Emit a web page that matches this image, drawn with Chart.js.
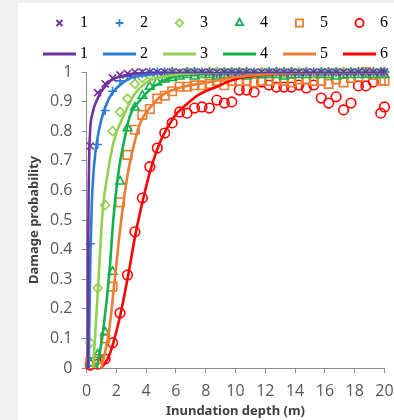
<!DOCTYPE html>
<html>
<head>
<meta charset="utf-8">
<script src="https://cdn.jsdelivr.net/npm/chart.js@4.4.1/dist/chart.umd.min.js"></script>
<style>
  html, body { margin: 0; padding: 0; overflow: hidden; background: #fff; }
  #wrap { width: 394px; height: 420px; overflow: hidden; position: relative; }
  #chart { position: absolute; left: 0; top: 0; width: 413px; height: 420px; }
</style>
</head>
<body>
<div id="wrap"><canvas id="chart" width="413" height="420"></canvas></div>
<script>
// Observed depths (m) of the damage samples
const depths = [0.25, 0.75, 1.25, 1.75, 2.25, 2.75, 3.25, 3.75, 4.25, 4.75,
  5.25, 5.75, 6.25, 6.75, 7.25, 7.75, 8.25, 8.75, 9.25, 9.75,
  10.25, 10.75, 11.25, 11.75, 12.25, 12.75, 13.25, 13.75, 14.25, 14.75,
  15.25, 15.75, 16.25, 16.75, 17.25, 17.75, 18.25, 18.75, 19.25, 19.75, 20];

// Observed damage probability per class
const obs1 = [0.75, 0.93, 0.96, 0.98, 0.99, 0.995, 1, 1, 1, 1, 1, 1, 1, 1, 1, 1, 1, 1, 1, 1,
  1, 1, 1, 1, 1, 1, 1, 1, 1, 1, 1, 1, 1, 1, 1, 1, 1, 1, 1, 1, 1];
const obs2 = [0.42, 0.755, 0.87, 0.935, 0.97, 0.985, 0.99, 0.995, 1, 1, 1, 1, 0.995, 1, 1, 1, 1, 0.995, 1, 1,
  1, 1, 1, 0.995, 1, 1, 1, 1, 0.995, 1, 1, 1, 1, 1, 0.995, 1, 1, 1, 1, 1, 1];
const obs3 = [0.085, 0.27, 0.55, 0.8, 0.865, 0.91, 0.96, 0.98, 0.99, 0.99, 0.995, 1, 0.995, 1, 1, 0.995, 1, 1, 1, 1,
  1, 1, 0.995, 1, 1, 1, 1, 1, 1, 1, 0.995, 1, 1, 1, 1, 1, 1, 1, 1, 1, 1];
const obs4 = [0.017, 0.045, 0.12, 0.325, 0.63, 0.81, 0.88, 0.92, 0.95, 0.965, 0.975, 0.98, 0.985, 0.99, 0.985, 0.99, 0.99, 0.985, 0.99, 0.99,
  0.99, 0.985, 0.99, 0.99, 0.99, 0.99, 0.985, 0.99, 0.99, 0.99, 0.99, 0.99, 0.99, 0.985, 0.99, 0.99, 0.99, 0.99, 0.99, 0.99, 0.99];
const obs5 = [0.02, 0.03, 0.1, 0.275, 0.56, 0.72, 0.805, 0.855, 0.875, 0.91, 0.92, 0.935, 0.95, 0.95, 0.955, 0.955, 0.96, 0.97, 0.955, 0.97,
  0.97, 0.97, 0.965, 0.97, 0.97, 0.975, 0.97, 0.965, 0.975, 0.975, 0.97, 0.97, 0.96, 0.975, 0.965, 0.98, 0.985, 1, 0.99, 0.97, 0.97];
const obs6 = [0.01, 0.013, 0.03, 0.085, 0.186, 0.314, 0.46, 0.574, 0.68, 0.743, 0.794, 0.828, 0.865, 0.861, 0.878, 0.882, 0.878, 0.905, 0.895, 0.899,
  0.939, 0.939, 0.932, 0.966, 0.956, 0.949, 0.949, 0.949, 0.956, 0.946, 0.956, 0.912, 0.895, 0.916, 0.872, 0.895, 0.953, 0.953, 0.966, 0.861, 0.882];

// Fitted curves
const fit1X = [0.08, 0.12, 0.2, 0.4, 0.7, 1, 1.6, 2.7, 4, 20];
const fit1Y = [0, 0.45, 0.75, 0.86, 0.905, 0.935, 0.97, 0.99, 1, 1];
const fit2X = [0.15, 0.25, 0.35, 0.5, 0.75, 1, 1.5, 2, 3, 4, 6, 20];
const fit2Y = [0, 0.35, 0.55, 0.68, 0.78, 0.84, 0.91, 0.945, 0.98, 0.99, 1, 1];
const fit3X = [0.45, 0.75, 1.1, 1.4, 1.8, 2.6, 3.3, 4.2, 5.2, 7, 10, 20];
const fit3Y = [0, 0.25, 0.54, 0.65, 0.76, 0.865, 0.93, 0.97, 0.985, 0.995, 1, 1];
const fit4X = [0.7, 1.1, 1.55, 1.75, 1.95, 2.2, 2.5, 2.9, 3.6, 4.5, 5.6, 8, 12, 20];
const fit4Y = [0, 0.12, 0.33, 0.47, 0.58, 0.68, 0.76, 0.85, 0.905, 0.95, 0.98, 0.995, 1, 1];
const fit5X = [1, 1.5, 1.9, 2.25, 2.7, 3.05, 3.6, 4.3, 5.1, 6.5, 8.3, 9.6, 13, 20];
const fit5Y = [0, 0.12, 0.3, 0.466, 0.635, 0.726, 0.827, 0.882, 0.922, 0.95, 0.966, 0.98, 0.995, 1];
const fit6X = [1.0, 1.5, 1.8, 2.3, 2.8, 3.3, 3.8, 4.3, 5.0, 5.9, 6.7, 7.6, 8.75, 9.8, 11, 13, 16, 20];
const fit6Y = [0, 0.04, 0.085, 0.186, 0.314, 0.455, 0.57, 0.67, 0.77, 0.85, 0.89, 0.925, 0.95, 0.973, 0.985, 0.995, 1, 1];

const classNames = ['1', '2', '3', '4', '5', '6'];
const classColors = ['#7030a0', '#2e7bd6', '#92d050', '#14b04c', '#ed7d31', '#ff0000'];
const markerStyles = ['crossRot', 'cross', 'rectRot', 'triangle', 'rect', 'circle'];
const markerSizes = [5, 4.5, 4.5, 5, 6, 4.8];

const observed = [obs1, obs2, obs3, obs4, obs5, obs6];
const fitX = [fit1X, fit2X, fit3X, fit4X, fit5X, fit6X];
const fitY = [fit1Y, fit2Y, fit3Y, fit4Y, fit5Y, fit6Y];

function toPoints(xs, ys) {
  return xs.map((x, i) => ({ x: x, y: ys[i] }));
}

const datasets = [];
observed.forEach((vals, i) => {
  datasets.push({
    label: classNames[i],
    data: toPoints(depths, vals),
    showLine: false,
    clip: false,
    pointStyle: markerStyles[i],
    pointRadius: markerSizes[i],
    pointBorderWidth: 1.6,
    borderColor: classColors[i],
    backgroundColor: 'rgba(0,0,0,0)',
    order: 2
  });
});
fitX.forEach((xs, i) => {
  datasets.push({
    type: 'line',
    label: classNames[i],
    data: toPoints(xs, fitY[i]),
    borderColor: classColors[i],
    borderWidth: 2.6,
    pointRadius: 0,
    fill: false,
    cubicInterpolationMode: 'monotone',
    order: 1
  });
});

// Legend icon: marker or short line segment, drawn into a small canvas
function legendIcon(ds) {
  const c = document.createElement('canvas');
  c.width = 37;
  c.height = 16;
  const g = c.getContext('2d');
  g.strokeStyle = ds.borderColor;
  g.fillStyle = 'rgba(0,0,0,0)';
  if (ds.showLine === false) {
    g.lineWidth = 1.8;
    Chart.helpers.drawPoint(g, { pointStyle: ds.pointStyle, radius: ds.pointRadius * 0.85, borderWidth: 1.8 }, 20.5, 8);
  } else {
    g.lineWidth = 3;
    g.beginPath();
    g.moveTo(4, 8);
    g.lineTo(37, 8);
    g.stroke();
  }
  return c;
}

// Grey frame around the white chart panel
const panelBackground = {
  id: 'panelBackground',
  beforeDraw(chart) {
    const ctx = chart.ctx;
    ctx.save();
    ctx.fillStyle = '#f0f0f0';
    ctx.fillRect(0, 0, chart.width, chart.height);
    ctx.fillStyle = '#ffffff';
    ctx.fillRect(18, 3, chart.width - 18, chart.height - 3);
    ctx.restore();
  }
};

const axisColor = '#8c8c8c';
const tickFont = { family: 'Open Sans', size: 16 };
const titleFont = { family: 'Noto Sans', size: 13, weight: 'bold' };

new Chart(document.getElementById('chart'), {
  type: 'scatter',
  data: { datasets: datasets },
  plugins: [panelBackground],
  options: {
    responsive: false,
    animation: false,
    layout: { padding: { left: 18, top: -5, right: 0, bottom: 0 } },
    plugins: {
      tooltip: { enabled: false },
      legend: {
        position: 'top',
        align: 'center',
        labels: {
          usePointStyle: true,
          pointStyleWidth: 29,
          padding: 15,
          color: '#000',
          font: { family: 'Liberation Serif', size: 16 },
          sort: (a, b) => a.datasetIndex - b.datasetIndex,
          generateLabels(chart) {
            const items = Chart.defaults.plugins.legend.labels.generateLabels(chart);
            items.forEach(item => { item.pointStyle = legendIcon(chart.data.datasets[item.datasetIndex]); });
            return items;
          }
        }
      }
    },
    scales: {
      x: {
        type: 'linear',
        min: 0,
        max: 20,
        ticks: { stepSize: 2, color: '#595959', font: tickFont, padding: 9 },
        grid: { drawOnChartArea: false, tickLength: 5, color: axisColor },
        border: { color: axisColor },
        title: { display: true, text: 'Inundation depth (m)', color: '#404040', font: titleFont, padding: { top: 0, bottom: 1 } },
        afterFit(scale) {
          scale.height = 52;
          scale.paddingRight = 28.5;
        }
      },
      y: {
        min: 0,
        max: 1,
        ticks: {
          stepSize: 0.1,
          color: '#595959',
          font: tickFont,
          padding: 9,
          callback: value => String(Number(value.toFixed(1)))
        },
        grid: { drawOnChartArea: false, tickLength: 5, color: axisColor },
        border: { color: axisColor },
        title: { display: true, text: 'Damage probability', color: '#404040', font: titleFont, padding: { top: 8, bottom: 0 } },
        afterFit(scale) {
          scale.width = 68.5;
          scale.paddingTop = 72;
        }
      }
    }
  }
});
</script>
</body>
</html>
